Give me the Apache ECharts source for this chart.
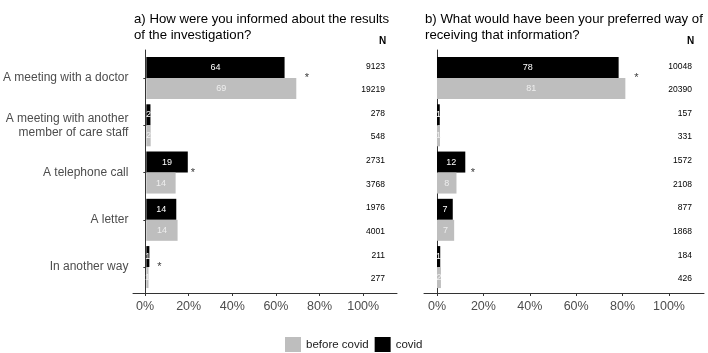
<!DOCTYPE html>
<html>
<head>
<meta charset="utf-8">
<script src="https://cdn.jsdelivr.net/npm/echarts@6/dist/echarts.min.js"></script>
<style>
  html, body { margin: 0; padding: 0; background: #fff; }
  #box { width: 708px; height: 353px; }
</style>
</head>
<body>
<div id="box"></div>
<script>
// categories, top to bottom
var categories = ['A meeting with a doctor', 'A meeting with another\nmember of care staff', 'A telephone call', 'A letter', 'In another way'];

// a) how informed (%)
var covidA  = [63.7, 1.9, 19.1, 13.8, 1.4];
var beforeA = [69.1, 2.0, 13.5, 14.4, 1.0];
// b) preferred way (%)
var covidB  = [78.3, 1.2, 12.2, 6.8, 1.4];
var beforeB = [81.2, 1.3, 8.4, 7.4, 1.7];

// N per row
var nCovidA  = [9123, 278, 2731, 1976, 211];
var nBeforeA = [19219, 548, 3768, 4001, 277];
var nCovidB  = [10048, 157, 1572, 877, 184];
var nBeforeB = [20390, 331, 2108, 1868, 426];

// where the significance stars sit (x in %)
var starA = [74, null, 21.5, null, 6];
var starB = [86, null, 15.5, null, null];

var ticks = [0, 20, 40, 60, 80, 100];

function interleave(a, b) {
    var out = [];
    for (var i = 0; i < a.length; i++) { out.push(String(a[i])); out.push(String(b[i])); }
    return out;
}
function starData(arr) {
    var out = [];
    arr.forEach(function (v, i) { if (v !== null) out.push([v, categories[i]]); });
    return out;
}

var font = 'Liberation Sans, Arial, sans-serif';
var grey = '#bebebe';
var axisCol = '#333';

var panels = [
    { left: 133, width: 264, min: -5.5, max: 115.5 },
    { left: 424, width: 280, min: -5.6, max: 115.1 }
];

var grids = [], xAxes = [], yAxes = [];
panels.forEach(function (p, k) {
    // bar grid (band sized like ggplot's discrete expand)
    grids.push({ left: p.left, width: p.width, top: 54.4, height: 236.3 });
    // frame grid for the axis lines
    grids.push({ left: p.left, width: p.width, top: 50, height: 243 });

    xAxes.push({ gridIndex: 2 * k, type: 'value', min: p.min, max: p.max, show: false });
    xAxes.push({
        gridIndex: 2 * k + 1, type: 'value', min: p.min, max: p.max,
        splitLine: { show: false },
        axisLine: { show: true, lineStyle: { color: axisCol, width: 1 } },
        axisTick: { show: true, length: 3, customValues: ticks, lineStyle: { color: axisCol } },
        axisLabel: { customValues: ticks, formatter: '{value}%', color: '#4d4d4d', fontSize: 12.5, fontFamily: font, margin: 7 }
    });

    yAxes.push({
        gridIndex: 2 * k, type: 'category', data: categories, inverse: true,
        axisLine: { show: false },
        axisTick: { show: k === 0, length: 3, alignWithLabel: true, lineStyle: { color: axisCol } },
        axisLabel: { show: k === 0, interval: 0, color: '#4d4d4d', fontSize: 12, lineHeight: 14, fontFamily: font, margin: 6 }
    });
    yAxes.push({
        gridIndex: 2 * k + 1, type: 'value', min: 0, max: 1,
        splitLine: { show: false }, axisTick: { show: false }, axisLabel: { show: false },
        axisLine: { show: true, lineStyle: { color: axisCol, width: 1 } }
    });
    // N column
    yAxes.push({
        gridIndex: 2 * k, type: 'category', position: 'right', inverse: true,
        data: k === 0 ? interleave(nCovidA, nBeforeA) : interleave(nCovidB, nBeforeB),
        axisLine: { show: false }, axisTick: { show: false },
        axisLabel: { inside: true, interval: 0, margin: 12, color: '#000', fontSize: 8.5, fontFamily: font }
    });
});

function barSeries(name, data, k, color, labelColor) {
    return {
        name: name, type: 'bar', xAxisIndex: 2 * k, yAxisIndex: 3 * k,
        data: data, barWidth: 21, barGap: '0%',
        itemStyle: { color: color },
        label: {
            show: true, position: 'inside', color: labelColor, fontSize: 9, fontFamily: font,
            formatter: function (p) { return Math.round(p.value); }
        }
    };
}
function starSeries(data, k) {
    return {
        type: 'scatter', xAxisIndex: 2 * k, yAxisIndex: 3 * k,
        data: starData(data), symbolSize: 0, silent: true,
        label: { show: true, position: 'inside', formatter: '*', color: '#000', fontSize: 11, fontFamily: font, offset: [0, 0] }
    };
}

var chart = echarts.init(document.getElementById('box'));
var option = {
    animation: false,
    textStyle: { fontFamily: font },
    title: [
        { text: 'a) How were you informed about the results\nof the investigation?', left: 129, top: 6,
          textStyle: { fontSize: 13.2, fontWeight: 'normal', color: '#000', lineHeight: 16 } },
        { text: 'b) What would have been your preferred way of\nreceiving that information?', left: 420, top: 6,
          textStyle: { fontSize: 13.2, fontWeight: 'normal', color: '#000', lineHeight: 16 } },
        { text: 'N', left: 374, top: 31, textStyle: { fontSize: 10, fontWeight: 'bold', color: '#000' } },
        { text: 'N', left: 682, top: 31, textStyle: { fontSize: 10, fontWeight: 'bold', color: '#000' } }
    ],
    legend: {
        data: ['before covid', 'covid'], left: 280, top: 332, icon: 'rect',
        itemWidth: 16, itemHeight: 15, itemGap: 6,
        textStyle: { fontSize: 11.5, color: '#1a1a1a', fontFamily: font }
    },
    grid: grids,
    xAxis: xAxes,
    yAxis: yAxes,
    series: [
        barSeries('covid', covidA, 0, '#000', '#fff'),
        barSeries('before covid', beforeA, 0, grey, '#eeeeee'),
        starSeries(starA, 0),
        barSeries('covid', covidB, 1, '#000', '#fff'),
        barSeries('before covid', beforeB, 1, grey, '#eeeeee'),
        starSeries(starB, 1)
    ]
};
chart.setOption(option);
</script>
</body>
</html>
